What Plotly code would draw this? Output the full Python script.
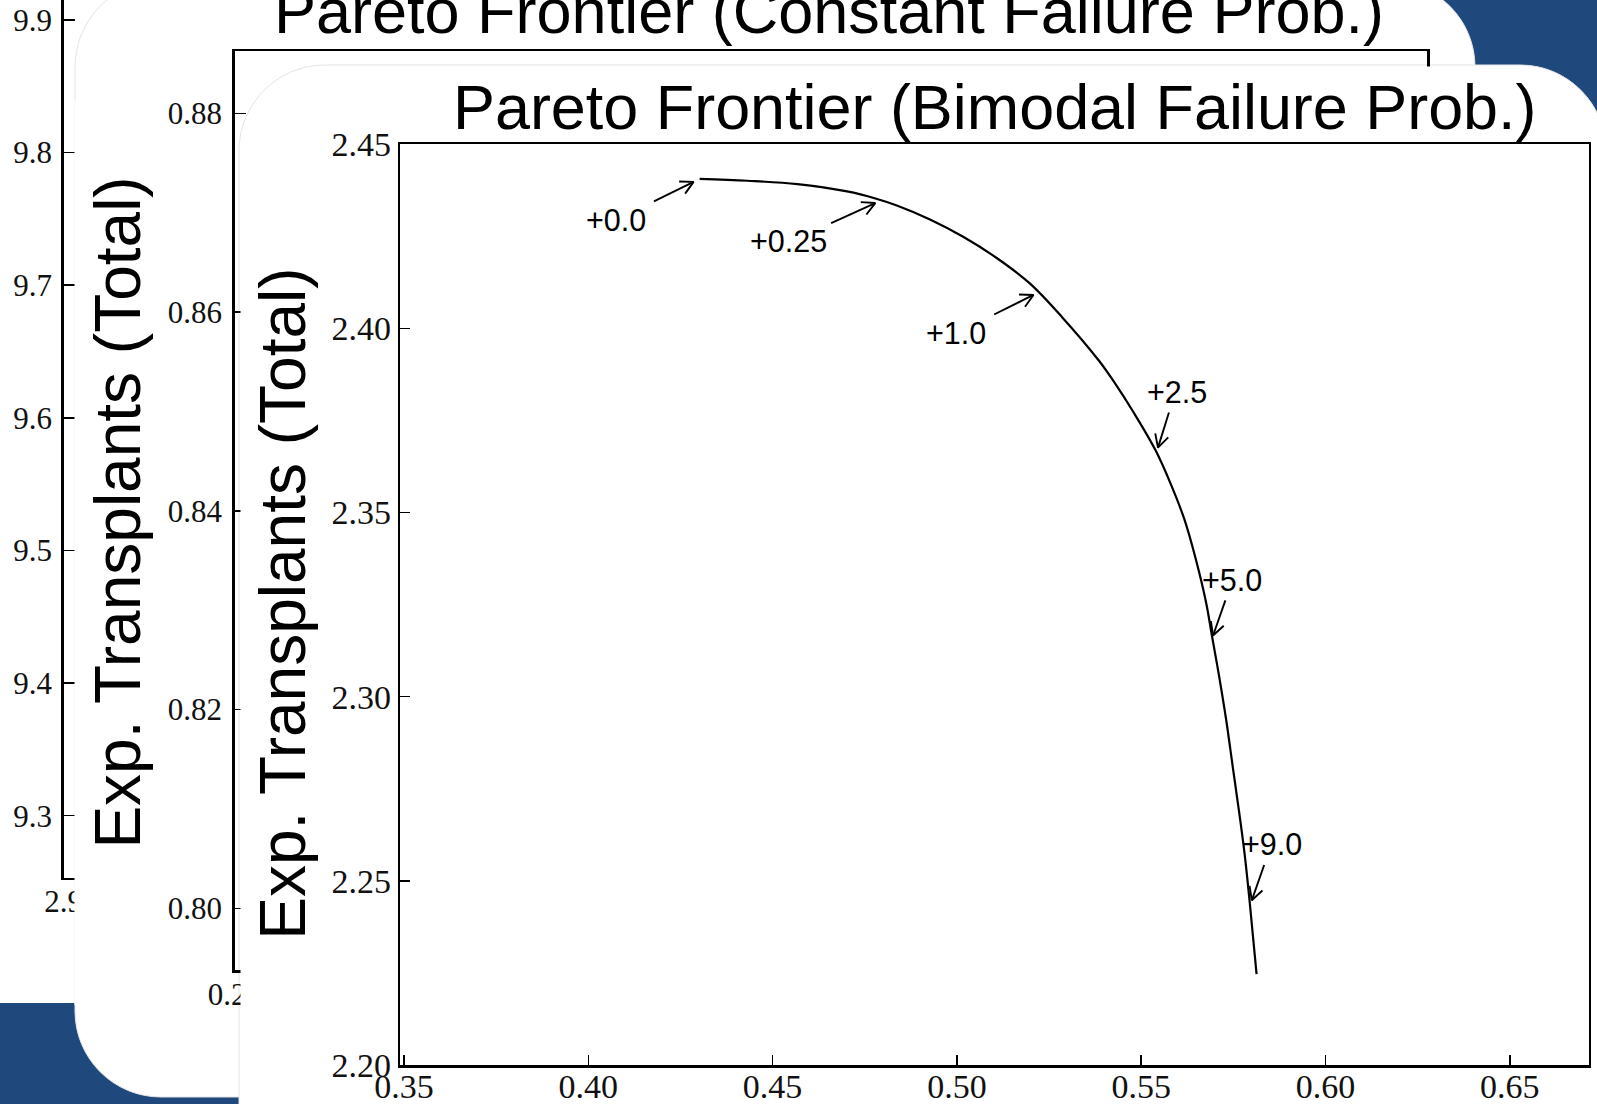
import math
import plotly.graph_objects as go

# ======================= DATA =======================
# Front chart: "Pareto Frontier (Bimodal Failure Prob.)"
bimodal_x = [0.4302, 0.4432, 0.4567, 0.4702, 0.4779, 0.4837, 0.4927, 0.5017, 0.5107,
             0.5197, 0.5286, 0.5385, 0.5425, 0.5480, 0.5539, 0.5580, 0.5617, 0.5648,
             0.5676, 0.5692, 0.5712, 0.5731, 0.5749, 0.5767, 0.5781, 0.5794, 0.5813]
bimodal_y = [2.4406, 2.4401, 2.4392, 2.4372, 2.4353, 2.4334, 2.4296, 2.4249, 2.4192,
             2.4123, 2.4030, 2.3913, 2.3857, 2.3771, 2.3669, 2.3578, 2.3482, 2.3374,
             2.3256, 2.3165, 2.3052, 2.2934, 2.2805, 2.2677, 2.2569, 2.2446, 2.2247]

point_labels = ["+0.0", "+0.25", "+1.0", "+2.5", "+5.0", "+9.0"]
point_x = [0.4302, 0.4795, 0.5224, 0.5540, 0.5689, 0.5794]
point_y = [2.4406, 2.4348, 2.4099, 2.3659, 2.3149, 2.2430]

bimodal_xticks = [0.35, 0.40, 0.45, 0.50, 0.55, 0.60, 0.65]
bimodal_xticktext = ["0.35", "0.40", "0.45", "0.50", "0.55", "0.60", "0.65"]
bimodal_yticks = [2.20, 2.25, 2.30, 2.35, 2.40, 2.45]
bimodal_yticktext = ["2.20", "2.25", "2.30", "2.35", "2.40", "2.45"]

# Middle chart: "Pareto Frontier (Constant Failure Prob.)" (mostly hidden)
const_xticks = [0.20, 0.25, 0.30, 0.35, 0.40, 0.45, 0.50]
const_xticktext = ["0.20", "0.25", "0.30", "0.35", "0.40", "0.45", "0.50"]
const_yticks = [0.80, 0.82, 0.84, 0.86, 0.88]
const_yticktext = ["0.80", "0.82", "0.84", "0.86", "0.88"]

# Back chart (only its y axis is visible)
back_xticks = [2.9]
back_xticktext = ["2.9"]
back_yticks = [9.3, 9.4, 9.5, 9.6, 9.7, 9.8, 9.9]
back_yticktext = ["9.3", "9.4", "9.5", "9.6", "9.7", "9.8", "9.9"]

title_front = "Pareto Frontier (Bimodal Failure Prob.)"
title_middle = "Pareto Frontier (Constant Failure Prob.)"
ylabel = "Exp. Transplants (Total)"

# ======================= LAYOUT GEOMETRY (pixels) =======================
W, H = 1597, 1104
BLUE = "#1F497D"


def fx(p):
    return p / W


def fy(p):
    return 1 - p / H


# front-chart plot area (px) and ranges
F_L, F_R, F_T, F_B = 400.2, 1588.8, 144.3, 1065.0
F_XR = [0.34897, 0.67143]
F_YR = [2.20, 2.45]
PX_PER_X = (F_R - F_L) / (F_XR[1] - F_XR[0])
PX_PER_Y = (F_B - F_T) / (F_YR[1] - F_YR[0])

# label text offsets and arrow tail offsets (pixels; +x right, +y down)
text_off = [(-84, 41.5), (-92.7, 40.5), (-83.6, 41.5), (20.6, -62.4), (21.4, -62.3), (22.9, -62.5)]
tail_off = [(-45.7, 22.5), (-50.2, 22.8), (-45.4, 22.5), (13, -41.6), (14.5, -41.5), (14.6, -41.7)]
ARROW_STANDOFF = 6.7
HEAD_LEN = 14.5
HEAD_ANG = math.radians(28)

SANS = "Liberation Sans"
SERIF = "Liberation Serif"


def axis_style(ticklen, standoff, fsize=31, mirror=True, lw=2.5):
    return dict(showline=True, linecolor="black", linewidth=lw, mirror=mirror,
                ticks="inside", ticklen=ticklen, tickwidth=1.5, tickcolor="black",
                showgrid=False, zeroline=False, automargin=False,
                tickfont=dict(family=SERIF, size=fsize, color="#111111"), fixedrange=True,
                tickmode="array", ticklabelstandoff=standoff)


def hidden_axis(domain, anchor):
    return dict(domain=domain, anchor=anchor, visible=False, range=[0, 1],
                fixedrange=True, automargin=False)


def rounded_panel(l, t, r, b, rad):
    k = 0.5523 * rad

    def P(x, y):
        return f"{fx(x):.6f},{fy(y):.6f}"

    return (f"M{P(l + rad, t)} L{P(r - rad, t)} C{P(r - rad + k, t)} {P(r, t + rad - k)} {P(r, t + rad)} "
            f"L{P(r, b - rad)} C{P(r, b - rad + k)} {P(r - rad + k, b)} {P(r - rad, b)} "
            f"L{P(l + rad, b)} C{P(l + rad - k, b)} {P(l, b - rad + k)} {P(l, b - rad)} "
            f"L{P(l, t + rad)} C{P(l, t + rad - k)} {P(l + rad - k, t)} {P(l + rad, t)} Z")


# arrows (shaft + open head) built from annotated data points and pixel offsets
arrow_x, arrow_y = [], []
for i in range(len(point_labels)):
    px0, py0 = point_x[i], point_y[i]
    dx, dy = tail_off[i]
    n = math.hypot(dx, dy)
    ux, uy = dx / n, dy / n                      # unit vector tip -> tail (px, y down)
    tip = (ARROW_STANDOFF * ux, ARROW_STANDOFF * uy)
    tail = (dx, dy)
    arms = []
    for s in (1, -1):
        c, sn = math.cos(s * HEAD_ANG), math.sin(s * HEAD_ANG)
        rx, ry = ux * c - uy * sn, ux * sn + uy * c
        arms.append((tip[0] + HEAD_LEN * rx, tip[1] + HEAD_LEN * ry))

    def to_data(p):
        return px0 + p[0] / PX_PER_X, py0 - p[1] / PX_PER_Y

    for p in (tail, tip):
        a, b = to_data(p)
        arrow_x.append(a)
        arrow_y.append(b)
    arrow_x.append(None)
    arrow_y.append(None)
    for p in (arms[0], tip, arms[1]):
        a, b = to_data(p)
        arrow_x.append(a)
        arrow_y.append(b)
    arrow_x.append(None)
    arrow_y.append(None)

fig = go.Figure()

# trace order = layer order: back chart, occluder, middle chart, occluders, front chart
for xa, ya in [("x", "y"), ("x2", "y2"), ("x3", "y3"), ("x4", "y4"), ("x5", "y5")]:
    fig.add_trace(go.Scatter(x=[], y=[], xaxis=xa, yaxis=ya, mode="lines",
                             hoverinfo="skip", showlegend=False))

fig.add_trace(go.Scatter(x=bimodal_x, y=bimodal_y, xaxis="x6", yaxis="y6", mode="lines",
                         line=dict(color="black", width=2.2, shape="spline", smoothing=1.0),
                         hoverinfo="skip", showlegend=False))
fig.add_trace(go.Scatter(x=arrow_x, y=arrow_y, xaxis="x6", yaxis="y6", mode="lines",
                         line=dict(color="black", width=1.9), connectgaps=False,
                         hoverinfo="skip", showlegend=False))

layout = dict(
    width=W, height=H, autosize=False,
    margin=dict(l=0, r=0, t=0, b=0, pad=0, autoexpand=False),
    paper_bgcolor=BLUE, plot_bgcolor="white",
    showlegend=False, hovermode=False,
)

# back chart
layout["xaxis"] = dict(axis_style(11, -5, mirror=False), domain=[fx(63.65), fx(90)], anchor="y",
                       range=[2.9, 2.93], tickvals=back_xticks, ticktext=back_xticktext)
layout["yaxis"] = dict(axis_style(11, 3, mirror=False), domain=[fy(877.75), 1], anchor="x",
                       range=[9.25321, 9.91508], tickvals=back_yticks, ticktext=back_yticktext)
# occluder: left part of middle panel
layout["xaxis2"] = hidden_axis([fx(74.5), fx(230)], "y2")
layout["yaxis2"] = hidden_axis([fy(1005), fy(100)], "x2")
# middle chart
layout["xaxis3"] = dict(axis_style(11, -5), domain=[fx(234.75), fx(1427.35)], anchor="y3",
                        range=[0.20, 0.50], tickvals=const_xticks, ticktext=const_xticktext)
layout["yaxis3"] = dict(axis_style(11, 4), domain=[fy(970.45), fy(51.25)], anchor="x3",
                        range=[0.793746, 0.886244], tickvals=const_yticks, ticktext=const_yticktext)
# occluders: front panel body
layout["xaxis4"] = hidden_axis([fx(240.5), fx(1500)], "y4")
layout["yaxis4"] = hidden_axis([0, fy(151)], "x4")
layout["xaxis5"] = hidden_axis([fx(325), fx(1500)], "y5")
layout["yaxis5"] = hidden_axis([fy(152), fy(66.5)], "x5")
# front chart
layout["xaxis6"] = dict(axis_style(10, -10, fsize=34), domain=[fx(F_L), fx(F_R)], anchor="y6",
                        range=F_XR, tickvals=bimodal_xticks, ticktext=bimodal_xticktext)
layout["yaxis6"] = dict(axis_style(10, 0, fsize=34), domain=[fy(F_B), fy(F_T)], anchor="x6",
                        range=F_YR, tickvals=bimodal_yticks, ticktext=bimodal_yticktext)

# slide panels (white, rounded) drawn underneath all subplots
EDGE = "#e4e4e4"
shapes = [
    dict(type="rect", xref="paper", yref="paper", layer="below",
         x0=-0.1, x1=fx(1311), y0=fy(1003), y1=1.2,
         fillcolor="white", line=dict(width=0)),
    dict(type="path", xref="paper", yref="paper", layer="below",
         path=rounded_panel(75, -19, 1475, 1097, 86),
         fillcolor="white", line=dict(color=EDGE, width=1)),
    dict(type="path", xref="paper", yref="paper", layer="below",
         path=rounded_panel(239, 65, 1606, 1250, 86),
         fillcolor="white", line=dict(color=EDGE, width=1)),
]
layout["shapes"] = shapes

annotations = []
for i, lab in enumerate(point_labels):
    dx, dy = text_off[i]
    annotations.append(dict(x=point_x[i], y=point_y[i], xref="x6", yref="y6", text=lab,
                            showarrow=False, xshift=dx, yshift=-dy, xanchor="center",
                            yanchor="middle", font=dict(family=SANS, size=30.5, color="black")))

annotations += [
    dict(x=fx(994.5), y=fy(106.7), xref="paper", yref="paper", text=title_front,
         showarrow=False, xanchor="center", yanchor="middle",
         font=dict(family=SANS, size=62.9, color="black")),
    dict(x=fx(828.5), y=fy(10.5), xref="paper", yref="paper", text=title_middle,
         showarrow=False, xanchor="center", yanchor="middle",
         font=dict(family=SANS, size=63, color="black")),
    dict(x=fx(282.7), y=fy(604), xref="paper", yref="paper", text=ylabel, textangle=-90,
         showarrow=False, xanchor="center", yanchor="middle",
         font=dict(family=SANS, size=64, color="black")),
    dict(x=fx(118), y=fy(512.6), xref="paper", yref="paper", text=ylabel, textangle=-90,
         showarrow=False, xanchor="center", yanchor="middle",
         font=dict(family=SANS, size=64, color="black")),
]
layout["annotations"] = annotations

fig.update_layout(**layout)
fig.write_html("out.html", config={"displayModeBar": False, "staticPlot": True},
               post_script="document.body.style.margin='0';document.body.style.overflow='hidden';")
